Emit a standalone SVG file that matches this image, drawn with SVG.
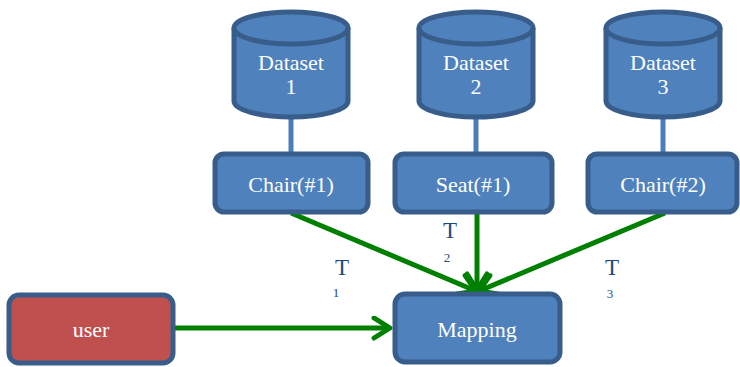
<svg xmlns="http://www.w3.org/2000/svg" width="740" height="367" viewBox="0 0 740 367">
<style>
.box{fill:#4f81bd;stroke:#385d8a;stroke-width:5}
.red{fill:#c0504d;stroke:#385d8a;stroke-width:5}
.lbl{font-family:"Liberation Serif","DejaVu Serif",serif;font-size:22px;fill:#ffffff;text-anchor:middle}
.t{font-family:"Liberation Serif","DejaVu Serif",serif;fill:#1f497d;text-anchor:middle}
.link{stroke:#4a7ebb;stroke-width:5;fill:none}
.arr{stroke:#008000;stroke-width:5;fill:none;marker-end:url(#ah)}
</style>
<defs>
<marker id="ah" markerUnits="userSpaceOnUse" markerWidth="30" markerHeight="30" refX="20" refY="12" orient="auto">
<path d="M4,2 L20,12 L4,22" fill="none" stroke="#008000" stroke-width="5" stroke-linecap="round" stroke-linejoin="round"/>
</marker>
</defs>
<g id="connectors">
<line class="link" x1="291" y1="116" x2="291" y2="154"/>
<line class="link" x1="476" y1="116" x2="476" y2="154"/>
<line class="link" x1="663" y1="116" x2="663" y2="154"/>
<line class="arr" x1="291" y1="213" x2="476" y2="291"/>
<line class="arr" x1="477" y1="214" x2="477" y2="290"/>
<line class="arr" x1="665" y1="213" x2="479" y2="291"/>
<line class="arr" x1="175" y1="328" x2="390" y2="328"/>
<text class="t" x="342" y="275" font-size="23">T</text>
<text class="t" x="336" y="297" font-size="13">1</text>
<text class="t" x="450" y="238" font-size="23">T</text>
<text class="t" x="447" y="262" font-size="13">2</text>
<text class="t" x="612" y="275" font-size="23">T</text>
<text class="t" x="610" y="298" font-size="13">3</text>
</g>
<g id="dataset1">
<path class="box" d="M234,28 V101 A57,16 0 0 0 348,101 V28"/>
<ellipse class="box" cx="291" cy="28" rx="57" ry="16"/>
<text class="lbl" x="291" y="70">Dataset</text>
<text class="lbl" x="291" y="94">1</text>
</g>
<g id="dataset2">
<path class="box" d="M419,28 V101 A57,16 0 0 0 533,101 V28"/>
<ellipse class="box" cx="476" cy="28" rx="57" ry="16"/>
<text class="lbl" x="476" y="70">Dataset</text>
<text class="lbl" x="476" y="94">2</text>
</g>
<g id="dataset3">
<path class="box" d="M606,28 V101 A57,16 0 0 0 720,101 V28"/>
<ellipse class="box" cx="663" cy="28" rx="57" ry="16"/>
<text class="lbl" x="663" y="70">Dataset</text>
<text class="lbl" x="663" y="94">3</text>
</g>
<g id="chair1">
<rect class="box" x="215" y="154" width="153" height="58" rx="9"/>
<text class="lbl" x="291" y="192">Chair(#1)</text>
</g>
<g id="seat1">
<rect class="box" x="395" y="154" width="157" height="58" rx="9"/>
<text class="lbl" x="473" y="192">Seat(#1)</text>
</g>
<g id="chair2">
<rect class="box" x="588" y="154" width="149" height="58" rx="9"/>
<text class="lbl" x="663" y="192">Chair(#2)</text>
</g>
<g id="user">
<rect class="red" x="9" y="295" width="164" height="68" rx="10"/>
<text class="lbl" x="91" y="337">user</text>
</g>
<g id="mapping">
<rect class="box" x="395" y="294" width="165" height="68" rx="10"/>
<text class="lbl" x="477" y="337">Mapping</text>
</g>
</svg>
